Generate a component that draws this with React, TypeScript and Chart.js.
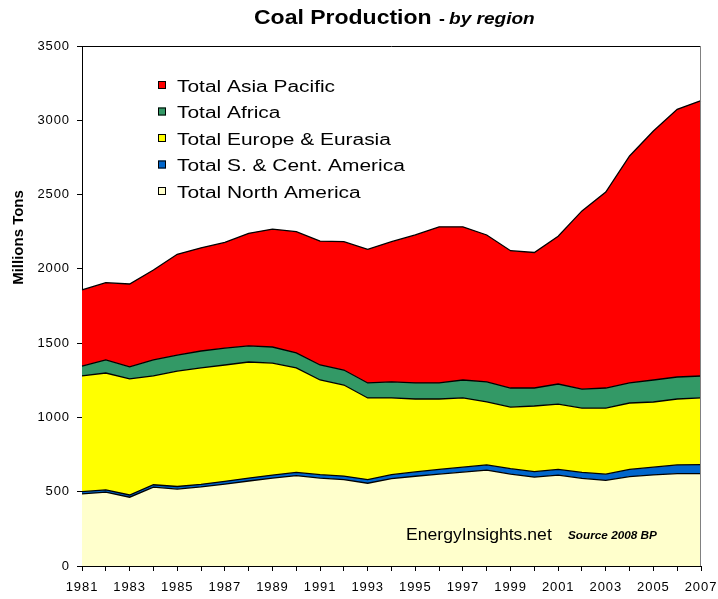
import React, { useEffect, useRef } from "react";
import { Chart, registerables } from "chart.js";

Chart.register(...registerables);

// ---------- data (millions of tons) ----------
const years = [
  "1981", "1982", "1983", "1984", "1985", "1986", "1987", "1988", "1989",
  "1990", "1991", "1992", "1993", "1994", "1995", "1996", "1997", "1998",
  "1999", "2000", "2001", "2002", "2003", "2004", "2005", "2006", "2007",
];

const northAmerica = [485, 497, 463, 531, 518, 532, 551, 572, 591, 608, 592, 581, 557, 588, 604, 619, 632, 645, 619, 598, 612, 590, 576, 602, 613, 622, 622];
const sCentAmerica = [15, 15, 15, 16, 17, 18, 19, 20, 21, 22, 23, 24, 25, 27, 29, 31, 33, 35, 36, 37, 38, 40, 42, 48, 52, 58, 60];
const europeEurasia = [779, 787, 781, 732, 777, 783, 783, 781, 754, 703, 637, 613, 549, 516, 491, 474, 466, 424, 415, 442, 440, 433, 445, 447, 439, 444, 449];
const africa = [67, 88, 81, 108, 108, 114, 114, 108, 108, 101, 101, 101, 101, 108, 108, 108, 121, 135, 128, 121, 135, 128, 135, 135, 148, 148, 148];
const asiaPacific = [512, 520, 558, 605, 678, 695, 711, 758, 794, 816, 834, 864, 900, 944, 996, 1051, 1031, 989, 924, 912, 995, 1199, 1319, 1528, 1676, 1802, 1854];

const seriesNames = [
  "Total North America",
  "Total S. & Cent. America",
  "Total Europe & Eurasia",
  "Total Africa",
  "Total Asia Pacific",
];
const seriesColors = ["#FFFFCC", "#0066CC", "#FFFF00", "#339966", "#FF0000"];
const seriesData = [northAmerica, sCentAmerica, europeEurasia, africa, asiaPacific];

const yTicks = [0, 500, 1000, 1500, 2000, 2500, 3000, 3500];

const titleMain = "Coal Production";
const titleSub = "by region";
const yTitle = "Millions Tons";
const watermark = "EnergyInsights.net";
const sourceNote = "Source 2008 BP";

const FAMILY = '"Liberation Sans", Arial, Helvetica, sans-serif';

function drawStretched(
  ctx: CanvasRenderingContext2D,
  text: string,
  x: number,
  y: number,
  font: string,
  sx: number,
  align: CanvasTextAlign = "left"
) {
  ctx.save();
  ctx.translate(x, y);
  ctx.scale(sx, 1);
  ctx.font = font;
  ctx.textAlign = align;
  ctx.textBaseline = "alphabetic";
  ctx.fillStyle = "#000";
  ctx.fillText(text, 0, 0);
  ctx.restore();
}

const overlayPlugin = {
  id: "overlay",
  beforeDraw(chart: any) {
    (chart.ctx as any).letterSpacing = "0.9px";
  },
  afterDraw(chart: any) {
    const ctx: CanvasRenderingContext2D = chart.ctx;
    (ctx as any).letterSpacing = "0px";
    ctx.save();
    (ctx as any).letterSpacing = "0px";
    const { left, right, top, bottom } = chart.chartArea;

    // plot-area border (top + right)
    ctx.lineWidth = 1;
    ctx.strokeStyle = "#000";
    ctx.beginPath();
    ctx.moveTo(left, top + 0.5);
    ctx.lineTo(right, top + 0.5);
    ctx.stroke();
    ctx.strokeStyle = "#808080";
    ctx.beginPath();
    ctx.moveTo(right - 0.5, top);
    ctx.lineTo(right - 0.5, bottom);
    ctx.stroke();

    // title
    drawStretched(ctx, titleMain, 254, 24, `bold 20px ${FAMILY}`, 1.15);
    drawStretched(ctx, "-", 439, 24, `bold 16px ${FAMILY}`, 1.1);
    drawStretched(ctx, titleSub, 449, 24, `italic bold 17px ${FAMILY}`, 1.12);

    // y axis title
    ctx.save();
    ctx.translate(23, 237.5);
    ctx.rotate(-Math.PI / 2);
    ctx.font = `bold 15px ${FAMILY}`;
    ctx.textAlign = "center";
    ctx.textBaseline = "alphabetic";
    ctx.fillStyle = "#000";
    ctx.fillText(yTitle, 0, 0);
    ctx.restore();

    // legend (reverse order, inside plot)
    const ds = chart.data.datasets;
    const order = ds.map((_: any, i: number) => i).reverse();
    order.forEach((idx: number, row: number) => {
      const base = 91.5 + row * 26.5;
      const cy = base - 6.5;
      ctx.fillStyle = ds[idx].backgroundColor;
      ctx.fillRect(158, cy - 4, 8, 8);
      ctx.strokeStyle = "#000";
      ctx.lineWidth = 1;
      ctx.strokeRect(158.5, cy - 3.5, 7, 7);
      drawStretched(ctx, ds[idx].label, 177, base, `17.3px ${FAMILY}`, 1.21);
    });

    // watermark + source
    drawStretched(ctx, watermark, 406, 540, `16px ${FAMILY}`, 1.1);
    drawStretched(ctx, sourceNote, 568, 539, `italic bold 10.5px ${FAMILY}`, 1.12);

    ctx.restore();
  },
};

export default function App() {
  const ref = useRef<HTMLCanvasElement | null>(null);

  useEffect(() => {
    if (!ref.current) return;
    const datasets = seriesData.map((d, i) => ({
      label: seriesNames[i],
      data: d,
      backgroundColor: seriesColors[i],
      borderColor: "#000",
      borderWidth: 1.3,
      fill: i === 0 ? "origin" : "-1",
      pointRadius: 0,
      pointHoverRadius: 0,
      tension: 0,
    }));

    const chart = new Chart(ref.current, {
      type: "line",
      data: { labels: years, datasets },
      options: {
        animation: false,
        responsive: true,
        maintainAspectRatio: false,
        events: [],
        layout: { padding: { top: 46, right: 17, left: 0, bottom: 0 } },
        plugins: {
          legend: { display: false },
          title: { display: false },
          tooltip: { enabled: false },
        },
        scales: {
          x: {
            type: "category",
            offset: false,
            grid: {
              display: true,
              drawOnChartArea: false,
              drawTicks: true,
              tickLength: 5,
              color: "#000",
              offset: false,
            },
            border: { display: true, color: "#000", width: 1 },
            ticks: {
              autoSkip: false,
              maxRotation: 0,
              minRotation: 0,
              padding: 9,
              color: "#000",
              font: { family: FAMILY, size: 13 },
              callback: function (this: any, value: any, index: number) {
                return index % 2 === 0 ? years[index] : "";
              },
            },
            afterFit: (scale: any) => {
              scale.height = 33;
              scale.paddingLeft = 0;
              scale.paddingRight = 0;
            },
          },
          y: {
            stacked: true,
            min: yTicks[0],
            max: yTicks[yTicks.length - 1],
            grid: {
              display: true,
              drawOnChartArea: false,
              drawTicks: true,
              tickLength: 5,
              color: "#000",
            },
            border: { display: true, color: "#000", width: 1 },
            ticks: {
              stepSize: yTicks[1] - yTicks[0],
              padding: 7,
              color: "#000",
              font: { family: FAMILY, size: 13 },
              callback: (value: any) => String(value),
            },
            afterFit: (scale: any) => {
              scale.width = 82;
              scale.paddingTop = 0;
              scale.paddingBottom = 0;
            },
          },
        },
      },
      plugins: [overlayPlugin],
    } as any);

    return () => chart.destroy();
  }, []);

  return (
    <div
      style={{
        position: "absolute",
        left: 0,
        top: 0,
        width: 718,
        height: 599,
        background: "#fff",
      }}
    >
      <canvas ref={ref} />
    </div>
  );
}
